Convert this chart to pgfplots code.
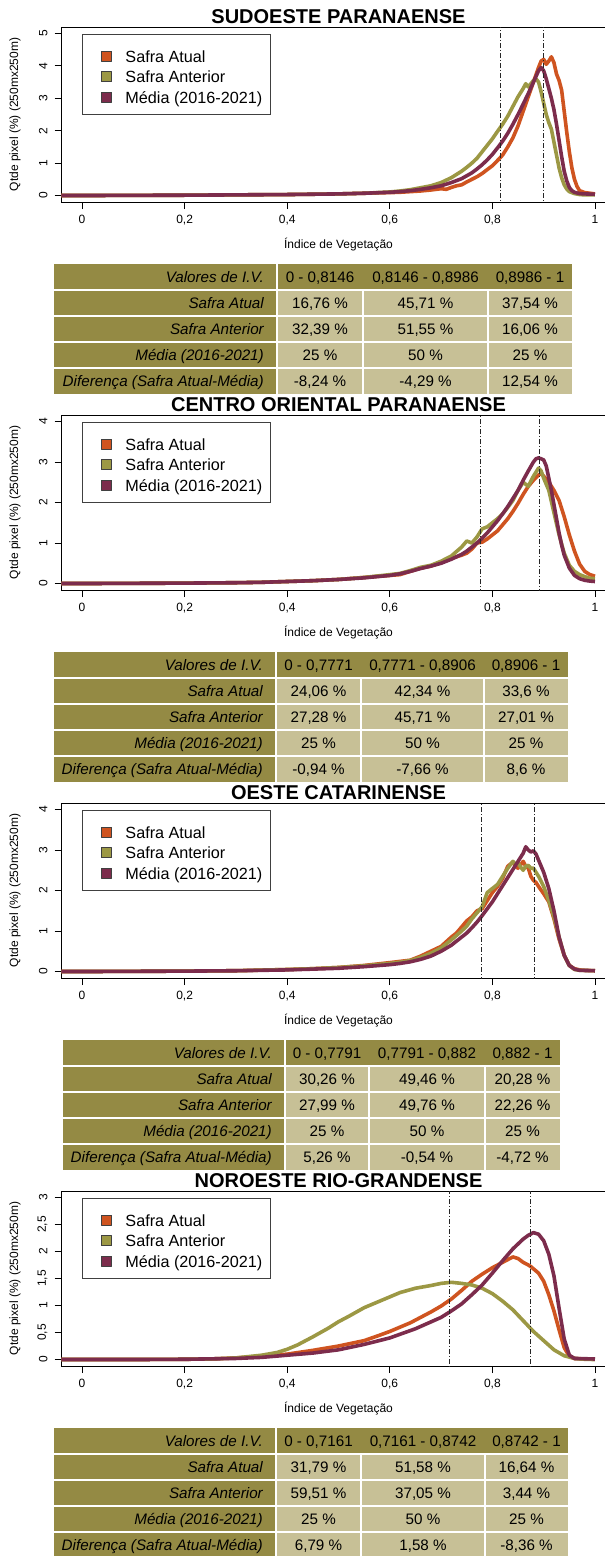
\documentclass[border=0pt]{standalone}
\usepackage{fontspec}
\setmainfont{Liberation Sans}
\usepackage{pgfplots}
\pgfplotsset{compat=1.18}

\definecolor{cAtual}{RGB}{207,84,32}
\definecolor{cAnt}{RGB}{156,152,68}
\definecolor{cMed}{RGB}{124,44,76}
\definecolor{tdark}{RGB}{148,138,68}
\definecolor{tlight}{RGB}{199,192,150}

\newcommand\tabfont{\fontsize{15.2}{18}\selectfont}

\pgfplotsset{
  sq/.style={legend image code/.code={\draw[##1, solid, line width=0.5pt, fill, draw=black!75] (0pt,-5pt) rectangle (10.5pt,5pt); \path (-9pt,0pt);}},
  sqtop/.style={legend image code/.code={\draw[##1, solid, line width=0.5pt, fill, draw=black!75] (0pt,-5pt) rectangle (10.5pt,5pt); \path (-9pt,10.8pt);}},
  vline/.style={black!85, line width=0.7pt, dash pattern=on 5pt off 2pt on 1pt off 2pt, forget plot},
  panel/.style={
    scale only axis, width=554pt, height=175pt,
    xmin=-0.04, xmax=1.04,
    axis line style={line width=0.8pt, black},
    tick style={line width=0.8pt, black},
    tick align=outside, major tick length=7pt,
    xtick pos=left, ytick pos=left,
    xtick={0,0.2,0.4,0.6,0.8,1},
    tick label style={font=\fontsize{12}{14}\selectfont},
    /pgf/number format/assume math mode=true,
    /pgf/number format/use comma,
    /pgf/number format/1000 sep={},
    xticklabel style={yshift=-3pt},
    yticklabel style={xshift=-3.5pt, rotate=90, anchor=south},
    xlabel={Índice de Vegetação},
    ylabel={Qtde pixel (\%) (250mx250m)},
    label style={font=\fontsize{12}{14}\selectfont},
    xlabel style={at={(axis description cs:0.5,-0.263)}, anchor=base},
    ylabel style={at={(axis description cs:-0.084,0.5)}, anchor=center},
    title style={at={(axis description cs:0.5,1.024)}, anchor=base, yshift=-6.5pt, font=\fontsize{20}{24}\selectfont\bfseries},
    legend style={at={(axis description cs:0.037,0.96)}, anchor=north west, draw=black!75, line width=0.8pt, fill=white,
      font=\fontsize{16.2}{19}\selectfont, inner xsep=8pt, inner ysep=9.2pt, row sep=4.9pt, column sep=13.5pt,
      nodes={inner sep=0pt, text height=13.6pt, text depth=2pt}},
    legend cell align=left,
    every axis plot/.append style={line width=3.6pt, line join=round},
  },
}

\newcommand{\tblgrid}[6]{%
  \def\tT{#1}\def\tA{#3}\def\tB{#4}\def\tC{#5}\def\tR{#6}%
  \fill[tdark] (#2,#1) rectangle (#6,#1+130);
  \fill[tlight] (#3,#1+26) rectangle (#6,#1+130);
  \foreach \r in {1,2,3,4} {\draw[white, line width=1.5pt] (#2,#1+26*\r) -- (#6,#1+26*\r);}
  \draw[white, line width=1.5pt] (#3,#1) -- (#3,#1+130);
  \draw[white, line width=1.5pt] (#4,#1+26) -- (#4,#1+130);
  \draw[white, line width=1.5pt] (#5,#1+26) -- (#5,#1+130);
  \node[font=\tabfont\itshape, anchor=base east, inner sep=0pt] at (#3-13,#1+18.4) {Valores de I.V.};
  \node[font=\tabfont\itshape, anchor=base east, inner sep=0pt] at (#3-13,#1+44.4) {Safra Atual};
  \node[font=\tabfont\itshape, anchor=base east, inner sep=0pt] at (#3-13,#1+70.4) {Safra Anterior};
  \node[font=\tabfont\itshape, anchor=base east, inner sep=0pt] at (#3-13,#1+96.4) {Média (2016-2021)};
  \node[font=\tabfont\itshape, anchor=base east, inner sep=0pt] at (#3-13,#1+122.4) {Diferença (Safra Atual-Média)};
}
\newcommand{\tblrow}[4]{%
  \node[font=\tabfont, anchor=base, inner sep=0pt] at ({(\tA+\tB)/2},{\tT+26*#1+18.4}) {#2};
  \node[font=\tabfont, anchor=base, inner sep=0pt] at ({(\tB+\tC)/2},{\tT+26*#1+18.4}) {#3};
  \node[font=\tabfont, anchor=base, inner sep=0pt] at ({(\tC+\tR)/2},{\tT+26*#1+18.4}) {#4};
}

\begin{document}
\begin{tikzpicture}

% ---------------- Tables ----------------
\begin{scope}[x=1pt, y=-1pt]
\tblgrid{264}{54}{277}{363}{488}{572}
\tblrow{0}{0 - 0,8146}{0,8146 - 0,8986}{0,8986 - 1}
\tblrow{1}{16,76 \%}{45,71 \%}{37,54 \%}
\tblrow{2}{32,39 \%}{51,55 \%}{16,06 \%}
\tblrow{3}{25 \%}{50 \%}{25 \%}
\tblrow{4}{-8,24 \%}{-4,29 \%}{12,54 \%}

\tblgrid{652}{54}{276}{361}{484}{568}
\tblrow{0}{0 - 0,7771}{0,7771 - 0,8906}{0,8906 - 1}
\tblrow{1}{24,06 \%}{42,34 \%}{33,6 \%}
\tblrow{2}{27,28 \%}{45,71 \%}{27,01 \%}
\tblrow{3}{25 \%}{50 \%}{25 \%}
\tblrow{4}{-0,94 \%}{-7,66 \%}{8,6 \%}

\tblgrid{1040}{63}{285}{369}{485}{560}
\tblrow{0}{0 - 0,7791}{0,7791 - 0,882}{0,882 - 1}
\tblrow{1}{30,26 \%}{49,46 \%}{20,28 \%}
\tblrow{2}{27,99 \%}{49,76 \%}{22,26 \%}
\tblrow{3}{25 \%}{50 \%}{25 \%}
\tblrow{4}{5,26 \%}{-0,54 \%}{-4,72 \%}

\tblgrid{1428}{54}{276}{361}{485}{568}
\tblrow{0}{0 - 0,7161}{0,7161 - 0,8742}{0,8742 - 1}
\tblrow{1}{31,79 \%}{51,58 \%}{16,64 \%}
\tblrow{2}{59,51 \%}{37,05 \%}{3,44 \%}
\tblrow{3}{25 \%}{50 \%}{25 \%}
\tblrow{4}{6,79 \%}{1,58 \%}{-8,36 \%}
\end{scope}

% ---------------- Panel 1 ----------------
\begin{axis}[panel, at={(61.5pt,-202pt)}, anchor=south west,
  ymin=-0.2, ymax=5.2, ytick={0,1,2,3,4,5}, title={SUDOESTE PARANAENSE}]
\addplot[cAtual, sqtop] coordinates {(-0.04,0) (0,0) (0.1,0.005) (0.2,0.01) (0.3,0.02) (0.4,0.03) (0.45,0.04) (0.5,0.05) (0.55,0.07) (0.6,0.09) (0.62,0.1) (0.64,0.12) (0.66,0.14) (0.68,0.17) (0.70,0.21) (0.71,0.19) (0.72,0.25) (0.73,0.3) (0.74,0.33) (0.75,0.42) (0.76,0.5) (0.77,0.58) (0.78,0.68) (0.79,0.8) (0.80,0.92) (0.81,1.08) (0.82,1.25) (0.83,1.5) (0.84,1.78) (0.85,2.15) (0.86,2.6) (0.87,3.05) (0.88,3.5) (0.89,3.95) (0.895,4.15) (0.90,4.2) (0.905,4.05) (0.91,4.15) (0.915,4.28) (0.92,4.1) (0.925,3.75) (0.93,3.55) (0.935,3.25) (0.94,2.6) (0.945,1.95) (0.95,1.35) (0.955,0.85) (0.96,0.5) (0.965,0.28) (0.97,0.15) (0.98,0.09) (0.99,0.07) (1.0,0.05)};
\addlegendentry{Safra Atual}
\addplot[cAnt, sq] coordinates {(-0.04,0) (0,0) (0.1,0.005) (0.2,0.01) (0.3,0.02) (0.4,0.03) (0.5,0.05) (0.55,0.07) (0.6,0.11) (0.62,0.14) (0.64,0.18) (0.66,0.24) (0.68,0.3) (0.70,0.4) (0.72,0.55) (0.74,0.75) (0.75,0.87) (0.76,1.0) (0.77,1.15) (0.78,1.35) (0.79,1.55) (0.80,1.75) (0.81,1.98) (0.82,2.2) (0.83,2.45) (0.84,2.75) (0.85,3.05) (0.86,3.3) (0.865,3.45) (0.87,3.35) (0.875,3.45) (0.88,3.55) (0.885,3.6) (0.89,3.5) (0.895,3.2) (0.90,2.85) (0.905,2.5) (0.91,2.25) (0.915,2.05) (0.92,1.65) (0.925,1.25) (0.93,0.85) (0.935,0.55) (0.94,0.33) (0.945,0.2) (0.95,0.12) (0.96,0.06) (0.97,0.03) (0.98,0.02) (1.0,0.02)};
\addlegendentry{Safra Anterior}
\addplot[cMed, sq] coordinates {(-0.04,0) (0,0) (0.1,0.005) (0.2,0.01) (0.3,0.02) (0.4,0.03) (0.5,0.05) (0.55,0.07) (0.6,0.1) (0.62,0.12) (0.64,0.15) (0.66,0.19) (0.68,0.24) (0.70,0.3) (0.72,0.4) (0.74,0.52) (0.76,0.7) (0.77,0.82) (0.78,0.95) (0.79,1.1) (0.80,1.27) (0.81,1.47) (0.82,1.68) (0.83,1.92) (0.84,2.2) (0.85,2.5) (0.86,2.82) (0.87,3.15) (0.88,3.5) (0.89,3.85) (0.895,3.95) (0.90,3.85) (0.905,3.6) (0.91,3.3) (0.915,3.0) (0.92,2.65) (0.925,2.2) (0.93,1.7) (0.935,1.2) (0.94,0.75) (0.945,0.45) (0.95,0.25) (0.955,0.15) (0.96,0.1) (0.97,0.06) (0.98,0.05) (1.0,0.04)};
\addlegendentry{Média (2016-2021)}
\addplot[vline] coordinates {(0.8146,-1) (0.8146,10)};
\addplot[vline] coordinates {(0.8986,-1) (0.8986,10)};
\end{axis}

% ---------------- Panel 2 ----------------
\begin{axis}[panel, at={(61.5pt,-590pt)}, anchor=south west,
  ymin=-0.16, ymax=4.16, ytick={0,1,2,3,4}, title={CENTRO ORIENTAL PARANAENSE}]
\addplot[cAtual, sqtop] coordinates {(-0.04,0) (0,0) (0.1,0.005) (0.2,0.01) (0.3,0.02) (0.35,0.03) (0.4,0.05) (0.45,0.07) (0.5,0.1) (0.55,0.15) (0.6,0.2) (0.62,0.22) (0.64,0.3) (0.66,0.38) (0.68,0.43) (0.70,0.52) (0.72,0.62) (0.74,0.7) (0.75,0.75) (0.76,0.85) (0.77,1.0) (0.78,1.02) (0.79,1.1) (0.80,1.2) (0.81,1.3) (0.82,1.45) (0.83,1.6) (0.84,1.78) (0.85,1.98) (0.86,2.2) (0.87,2.4) (0.88,2.55) (0.89,2.68) (0.895,2.72) (0.90,2.65) (0.91,2.5) (0.92,2.3) (0.93,2.05) (0.94,1.65) (0.95,1.2) (0.96,0.8) (0.97,0.48) (0.98,0.3) (0.99,0.22) (1.0,0.18)};
\addlegendentry{Safra Atual}
\addplot[cAnt, sq] coordinates {(-0.04,0) (0,0) (0.1,0.005) (0.2,0.01) (0.3,0.02) (0.35,0.03) (0.4,0.05) (0.45,0.07) (0.5,0.1) (0.55,0.15) (0.6,0.22) (0.62,0.25) (0.64,0.32) (0.66,0.4) (0.68,0.45) (0.70,0.55) (0.72,0.68) (0.74,0.9) (0.75,1.05) (0.76,1.0) (0.77,1.15) (0.78,1.35) (0.79,1.4) (0.80,1.5) (0.81,1.6) (0.82,1.72) (0.83,1.88) (0.84,2.05) (0.85,2.3) (0.86,2.5) (0.87,2.4) (0.88,2.65) (0.89,2.85) (0.895,2.78) (0.90,2.6) (0.91,2.3) (0.92,1.75) (0.93,1.2) (0.94,0.75) (0.95,0.45) (0.96,0.3) (0.97,0.22) (0.98,0.17) (0.99,0.13) (1.0,0.12)};
\addlegendentry{Safra Anterior}
\addplot[cMed, sq] coordinates {(-0.04,0) (0,0) (0.1,0.005) (0.2,0.01) (0.3,0.02) (0.35,0.03) (0.4,0.05) (0.45,0.07) (0.5,0.1) (0.55,0.14) (0.6,0.2) (0.62,0.24) (0.64,0.3) (0.66,0.37) (0.68,0.43) (0.70,0.5) (0.72,0.6) (0.74,0.72) (0.75,0.8) (0.76,0.9) (0.77,1.0) (0.78,1.12) (0.79,1.25) (0.80,1.4) (0.81,1.55) (0.82,1.72) (0.83,1.9) (0.84,2.1) (0.85,2.3) (0.86,2.55) (0.87,2.78) (0.88,3.0) (0.885,3.08) (0.89,3.1) (0.895,3.08) (0.90,3.05) (0.905,2.9) (0.91,2.6) (0.915,2.3) (0.92,1.95) (0.925,1.6) (0.93,1.25) (0.935,0.95) (0.94,0.7) (0.95,0.38) (0.96,0.2) (0.97,0.12) (0.98,0.08) (0.99,0.06) (1.0,0.05)};
\addlegendentry{Média (2016-2021)}
\addplot[vline] coordinates {(0.7771,-1) (0.7771,10)};
\addplot[vline] coordinates {(0.8906,-1) (0.8906,10)};
\end{axis}

% ---------------- Panel 3 ----------------
\begin{axis}[panel, at={(61.5pt,-978pt)}, anchor=south west,
  ymin=-0.16, ymax=4.16, ytick={0,1,2,3,4}, title={OESTE CATARINENSE}]
\addplot[cAtual, sqtop] coordinates {(-0.04,0) (0,0) (0.1,0.005) (0.2,0.01) (0.3,0.02) (0.4,0.05) (0.45,0.07) (0.5,0.1) (0.55,0.15) (0.6,0.22) (0.62,0.25) (0.64,0.28) (0.66,0.38) (0.68,0.5) (0.70,0.62) (0.72,0.85) (0.73,0.95) (0.74,1.1) (0.75,1.25) (0.76,1.35) (0.77,1.5) (0.78,1.55) (0.79,1.75) (0.80,1.95) (0.81,2.1) (0.82,2.3) (0.83,2.6) (0.84,2.7) (0.845,2.6) (0.85,2.55) (0.86,2.72) (0.865,2.6) (0.87,2.55) (0.875,2.35) (0.88,2.25) (0.885,2.2) (0.89,2.1) (0.90,1.92) (0.91,1.72) (0.92,1.3) (0.93,0.8) (0.94,0.4) (0.95,0.15) (0.96,0.07) (0.97,0.04) (0.98,0.03) (1.0,0.02)};
\addlegendentry{Safra Atual}
\addplot[cAnt, sq] coordinates {(-0.04,0) (0,0) (0.1,0.005) (0.2,0.01) (0.3,0.02) (0.4,0.05) (0.45,0.07) (0.5,0.1) (0.55,0.14) (0.6,0.2) (0.62,0.23) (0.64,0.27) (0.66,0.35) (0.68,0.45) (0.70,0.58) (0.72,0.78) (0.74,1.0) (0.75,1.12) (0.76,1.3) (0.77,1.45) (0.78,1.6) (0.79,1.95) (0.80,2.05) (0.81,2.15) (0.82,2.35) (0.83,2.55) (0.84,2.72) (0.845,2.65) (0.85,2.68) (0.855,2.58) (0.86,2.5) (0.865,2.6) (0.87,2.62) (0.875,2.55) (0.88,2.55) (0.885,2.45) (0.89,2.35) (0.90,2.1) (0.91,1.75) (0.92,1.35) (0.93,0.85) (0.94,0.4) (0.95,0.15) (0.96,0.05) (0.97,0.03) (1.0,0.02)};
\addlegendentry{Safra Anterior}
\addplot[cMed, sq] coordinates {(-0.04,0) (0,0) (0.1,0.005) (0.2,0.01) (0.3,0.02) (0.4,0.04) (0.45,0.06) (0.5,0.08) (0.55,0.12) (0.6,0.17) (0.62,0.2) (0.64,0.24) (0.66,0.3) (0.68,0.38) (0.70,0.5) (0.72,0.65) (0.74,0.85) (0.75,0.95) (0.76,1.08) (0.77,1.22) (0.78,1.38) (0.79,1.55) (0.80,1.72) (0.81,1.92) (0.82,2.12) (0.83,2.32) (0.84,2.52) (0.85,2.72) (0.86,2.92) (0.865,3.08) (0.87,3.0) (0.875,2.95) (0.88,2.98) (0.885,2.9) (0.89,2.75) (0.90,2.45) (0.91,2.05) (0.92,1.5) (0.93,0.85) (0.94,0.4) (0.95,0.15) (0.96,0.06) (0.97,0.03) (1.0,0.02)};
\addlegendentry{Média (2016-2021)}
\addplot[vline] coordinates {(0.7791,-1) (0.7791,10)};
\addplot[vline] coordinates {(0.882,-1) (0.882,10)};
\end{axis}

% ---------------- Panel 4 ----------------
\begin{axis}[panel, at={(61.5pt,-1366pt)}, anchor=south west,
  ymin=-0.12, ymax=3.12, ytick={0,0.5,1,1.5,2,2.5,3}, title={NOROESTE RIO-GRANDENSE}]
\addplot[cAtual, sqtop] coordinates {(-0.04,0) (0,0) (0.1,0) (0.2,0.005) (0.25,0.01) (0.3,0.03) (0.35,0.06) (0.4,0.1) (0.45,0.17) (0.5,0.25) (0.55,0.35) (0.58,0.45) (0.6,0.52) (0.62,0.6) (0.64,0.68) (0.66,0.78) (0.68,0.88) (0.70,0.99) (0.72,1.12) (0.74,1.28) (0.76,1.45) (0.78,1.58) (0.80,1.7) (0.82,1.8) (0.83,1.85) (0.84,1.9) (0.85,1.87) (0.86,1.8) (0.87,1.75) (0.875,1.72) (0.88,1.68) (0.89,1.6) (0.90,1.45) (0.91,1.2) (0.92,0.9) (0.93,0.55) (0.94,0.22) (0.95,0.06) (0.96,0.02) (0.98,0.01) (1.0,0.01)};
\addlegendentry{Safra Atual}
\addplot[cAnt, sq] coordinates {(-0.04,0) (0,0) (0.1,0) (0.2,0.005) (0.25,0.01) (0.3,0.03) (0.35,0.08) (0.38,0.13) (0.4,0.19) (0.42,0.27) (0.45,0.42) (0.48,0.58) (0.5,0.7) (0.52,0.8) (0.55,0.96) (0.58,1.08) (0.6,1.16) (0.62,1.24) (0.65,1.32) (0.68,1.37) (0.70,1.41) (0.72,1.43) (0.74,1.41) (0.76,1.38) (0.78,1.32) (0.80,1.22) (0.82,1.08) (0.84,0.92) (0.86,0.72) (0.88,0.52) (0.90,0.35) (0.92,0.18) (0.94,0.07) (0.96,0.02) (0.98,0.005) (1.0,0)};
\addlegendentry{Safra Anterior}
\addplot[cMed, sq] coordinates {(-0.04,0) (0,0) (0.1,0) (0.2,0.005) (0.3,0.02) (0.35,0.04) (0.4,0.08) (0.45,0.12) (0.5,0.18) (0.55,0.28) (0.6,0.4) (0.65,0.57) (0.70,0.78) (0.72,0.9) (0.74,1.03) (0.76,1.2) (0.78,1.38) (0.80,1.6) (0.82,1.83) (0.84,2.05) (0.86,2.23) (0.87,2.3) (0.88,2.35) (0.89,2.32) (0.90,2.2) (0.91,1.95) (0.92,1.55) (0.93,0.95) (0.94,0.38) (0.95,0.08) (0.96,0.02) (1.0,0.01)};
\addlegendentry{Média (2016-2021)}
\addplot[vline] coordinates {(0.7161,-1) (0.7161,10)};
\addplot[vline] coordinates {(0.8742,-1) (0.8742,10)};
\end{axis}

\pgfresetboundingbox
\path[use as bounding box] (0pt,0pt) rectangle (605pt,-1556pt);
\end{tikzpicture}
\end{document}
